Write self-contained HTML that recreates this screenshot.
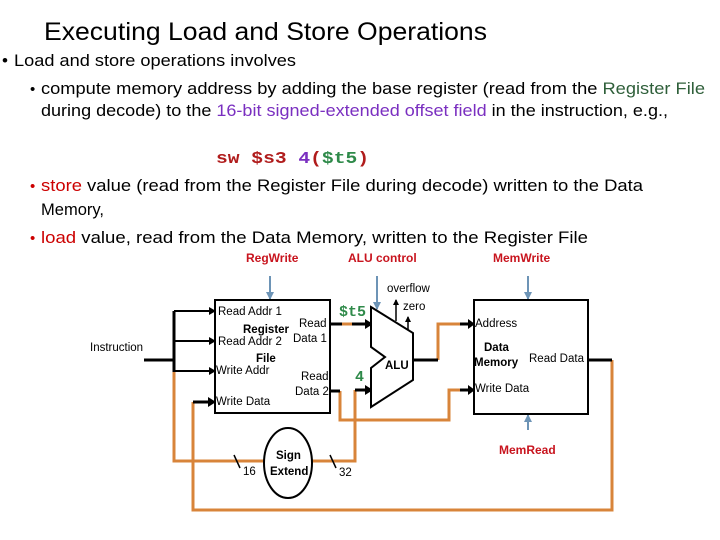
<!DOCTYPE html>
<html><head><meta charset="utf-8"><style>html,body{margin:0;padding:0;background:#fff}svg{display:block}</style></head>
<body>
<svg width="720" height="540" viewBox="0 0 720 540" xmlns="http://www.w3.org/2000/svg" font-family="Liberation Sans, sans-serif">
<defs>
<marker id="ab" markerWidth="6" markerHeight="6" refX="5" refY="3" orient="auto" markerUnits="userSpaceOnUse"><path d="M0,0 L6,3 L0,6 z" fill="#000"/></marker>
<marker id="ag" markerWidth="8" markerHeight="8" refX="7" refY="4" orient="auto" markerUnits="userSpaceOnUse"><path d="M0,0 L8,4 L0,8 z" fill="#6d94b6"/></marker>
</defs>
<!-- text -->
<text x="44" y="40" font-size="25" fill="#000" textLength="443" lengthAdjust="spacingAndGlyphs">Executing Load and Store Operations</text>
<text x="2" y="66" font-size="17">•</text>
<text x="14" y="66" font-size="17" textLength="282" lengthAdjust="spacingAndGlyphs">Load and store operations involves</text>
<text x="30" y="94" font-size="15">•</text>
<text x="41" y="94" font-size="17" textLength="664" lengthAdjust="spacingAndGlyphs">compute memory address by adding the base register (read from the <tspan fill="#2f5f3a">Register File</tspan></text>
<text x="41" y="116" font-size="17" textLength="627" lengthAdjust="spacingAndGlyphs">during decode) to the <tspan fill="#7a2fc0">16-bit signed-extended offset field</tspan> in the instruction, e.g.,</text>
<text x="216" y="163" font-size="17" font-family="Liberation Mono, monospace" font-weight="bold" textLength="153" lengthAdjust="spacingAndGlyphs"><tspan fill="#b01c1c">sw $s3 </tspan><tspan fill="#7a2fc0">4</tspan><tspan fill="#b01c1c">(</tspan><tspan fill="#2f8a4a">$t5</tspan><tspan fill="#b01c1c">)</tspan></text>
<text x="30" y="191" font-size="15" fill="#c00">•</text>
<text x="41" y="191" font-size="17" textLength="602" lengthAdjust="spacingAndGlyphs"><tspan fill="#c00">store</tspan> value (read from the Register File during decode) written to the Data</text>
<text x="41" y="215" font-size="17" textLength="63" lengthAdjust="spacingAndGlyphs">Memory,</text>
<text x="30" y="243" font-size="15" fill="#c00">•</text>
<text x="41" y="243" font-size="17" textLength="547" lengthAdjust="spacingAndGlyphs"><tspan fill="#c00">load</tspan> value, read from the Data Memory, written to the Register File</text>

<!-- control labels -->
<g font-size="12" font-weight="bold" fill="#c8141e">
<text x="246" y="262">RegWrite</text>
<text x="348" y="262">ALU control</text>
<text x="493" y="262">MemWrite</text>
<text x="499" y="454">MemRead</text>
</g>
<g stroke="#6d94b6" stroke-width="2">
<line x1="270" y1="276" x2="270" y2="299" marker-end="url(#ag)"/>
<line x1="377" y1="276" x2="377" y2="309" marker-end="url(#ag)"/>
<line x1="528" y1="276" x2="528" y2="299" marker-end="url(#ag)"/>
<line x1="528" y1="430" x2="528" y2="415" marker-end="url(#ag)"/>
</g>

<!-- orange wires -->
<g stroke="#d8843a" stroke-width="3" fill="none">
<polyline points="174,370 174,461 265,461"/>
<polyline points="312,461 355,461 355,390"/>
<polyline points="193,402 193,510 612,510 612,360"/>
<polyline points="340,391 340,420 449,420 449,390 460,390"/>
<polyline points="438,360 438,324 460,324"/>
<line x1="342" y1="324" x2="352" y2="324"/>
</g>

<!-- black wires -->
<g stroke="#000" stroke-width="3" fill="none">
<line x1="144" y1="360" x2="174" y2="360"/>
<line x1="174" y1="311" x2="174" y2="372"/>
<line x1="174" y1="311" x2="210" y2="311" stroke-width="2"/>
<line x1="174" y1="341" x2="210" y2="341" stroke-width="2"/>
<line x1="174" y1="371" x2="210" y2="371" stroke-width="2"/>
<line x1="193" y1="402" x2="210" y2="402"/>
<line x1="330" y1="324" x2="342" y2="324"/>
<line x1="352" y1="324" x2="366" y2="324"/>
<line x1="330" y1="391" x2="340" y2="391"/>
<line x1="355" y1="390" x2="366" y2="390"/>
<line x1="413" y1="360" x2="438" y2="360"/>
<line x1="460" y1="324" x2="469" y2="324"/>
<line x1="460" y1="390" x2="469" y2="390"/>
<line x1="587" y1="360" x2="612" y2="360"/>
</g>
<g fill="#000">
<path d="M209,307 L216,311 L209,315z"/><path d="M209,337 L216,341 L209,345z"/><path d="M209,367 L216,371 L209,375z"/><path d="M208,397 L216,402 L208,407z"/>
<path d="M365,319 L373,324 L365,329z"/><path d="M365,385 L373,390 L365,395z"/>
<path d="M468,319 L475,324 L468,329z"/><path d="M468,385 L475,390 L468,395z"/>
</g>
<g stroke="#000" stroke-width="1.5">
<line x1="396" y1="321" x2="396" y2="300" marker-end="url(#ab)"/>
<line x1="408" y1="330" x2="408" y2="317" marker-end="url(#ab)"/>
<line x1="234" y1="455" x2="240" y2="468"/>
<line x1="330" y1="455" x2="336" y2="468"/>
</g>

<!-- boxes -->
<rect x="215" y="300" width="115" height="113" fill="none" stroke="#000" stroke-width="2"/>
<rect x="474" y="300" width="114" height="114" fill="none" stroke="#000" stroke-width="2"/>
<polygon points="371,307 413,333 413,380 371,407 371,368 385,357 371,347" fill="#fff" stroke="#000" stroke-width="2"/>
<ellipse cx="288" cy="463" rx="24" ry="35" fill="#fff" stroke="#000" stroke-width="2"/>

<!-- diagram labels -->
<g font-size="11.5" fill="#000">
<text x="90" y="351">Instruction</text>
<text x="218" y="315">Read Addr 1</text>
<text x="218" y="345">Read Addr 2</text>
<text x="216" y="374">Write Addr</text>
<text x="216" y="405">Write Data</text>
<text x="299" y="327">Read</text>
<text x="293" y="342">Data 1</text>
<text x="301" y="380">Read</text>
<text x="295" y="395">Data 2</text>
<text x="387" y="292">overflow</text>
<text x="403" y="310">zero</text>
<text x="475" y="327">Address</text>
<text x="529" y="362">Read Data</text>
<text x="475" y="392">Write Data</text>
<text x="243" y="475">16</text>
<text x="339" y="476">32</text>
</g>
<g font-size="11.5" font-weight="bold" fill="#000">
<text x="243" y="333">Register</text>
<text x="256" y="362">File</text>
<text x="385" y="369">ALU</text>
<text x="484" y="351">Data</text>
<text x="474" y="366">Memory</text>
<text x="276" y="459">Sign</text>
<text x="270" y="475">Extend</text>
</g>
<g font-family="Liberation Mono, monospace" font-weight="bold" font-size="15" fill="#2f8a4a">
<text x="339" y="316">$t5</text>
<text x="355" y="381">4</text>
</g>
</svg>
</body></html>
